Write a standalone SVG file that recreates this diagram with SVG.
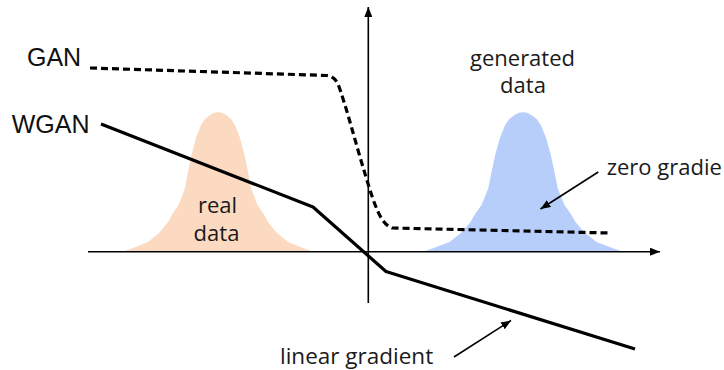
<svg xmlns="http://www.w3.org/2000/svg" xmlns:xlink="http://www.w3.org/1999/xlink" width="724" height="370" viewBox="0 0 724 370">
  <style>
    .lbl { font-family: "Open Sans", "Noto Sans", "DejaVu Sans", sans-serif; font-size: 22px; fill: #1a1a1a; }
    .big { font-family: "Liberation Sans", Arial, sans-serif; font-size: 25px; fill: #111; }
    .axis { stroke: #000; stroke-width: 1.6; fill: none; }
    .curve { stroke: #000; stroke-width: 3.2; fill: none; stroke-linejoin: round; }
    .dash { stroke-dasharray: 7 4; }
    .note { stroke: #000; stroke-width: 1.6; fill: none; }
  </style>
  <defs>
    <path id="bell" d="M-95,251.7 L-85,248 L-70,242 L-58,232 L-50,222 L-45,213 L-39.5,205 L-36,196 L-33,188 L-30,172 L-26.5,155 L-22,138 L-17,125 L-13,119 L-8,115 L-4,112.8 L0,112.2 L4,112.8 L8,115 L13,119 L17,125 L22,138 L26.5,155 L30,172 L33,188 L36,196 L39.5,205 L45,213 L50,222 L58,232 L70,242 L85,248 L95,251.7 Z"/>
    <marker id="ah" viewBox="0 0 10 8" refX="10" refY="4" markerWidth="10" markerHeight="8" markerUnits="userSpaceOnUse" orient="auto">
      <path d="M0,0 L10,4 L0,8 Z" fill="#000"/>
    </marker>
  </defs>

  <g id="real-data">
    <use xlink:href="#bell" href="#bell" transform="translate(218,0)" fill="#FCD9C1"/>
    <text class="lbl" x="217.5" y="213" text-anchor="middle">real</text>
    <text class="lbl" x="216.5" y="240.5" text-anchor="middle">data</text>
  </g>

  <g id="generated-data">
    <use xlink:href="#bell" href="#bell" transform="translate(523,0) scale(1.05,1)" fill="#B7CEFA"/>
    <text class="lbl" x="522.5" y="65.5" text-anchor="middle">generated</text>
    <text class="lbl" x="523" y="93" text-anchor="middle">data</text>
  </g>

  <g id="axes">
    <line class="axis" x1="88" y1="251.7" x2="660" y2="251.7" marker-end="url(#ah)"/>
    <line class="axis" x1="368.3" y1="303" x2="368.3" y2="7" marker-end="url(#ah)"/>
  </g>

  <g id="gan">
    <path class="curve dash" d="M90,68 L327,75.5 Q334,76 338,84 C346,105 356,145 366,177 C375,207 381,224 392,228 L610,233"/>
    <text class="big" x="27" y="66">GAN</text>
  </g>

  <g id="wgan">
    <path class="curve" d="M101,124 L313,207 L386,271.5 L635,349"/>
    <text class="big" x="11.7" y="133.3">WGAN</text>
  </g>

  <g id="connectors">
    <line class="note" x1="598.3" y1="172" x2="540.5" y2="209" marker-end="url(#ah)"/>
    <line class="note" x1="454" y1="357" x2="511" y2="320.5" marker-end="url(#ah)"/>
  </g>

  <g id="annotations">
    <text class="lbl" x="606.7" y="175">zero gradie</text>
    <text class="lbl" x="280" y="364" style="font-size:22.5px">linear gradient</text>
  </g>
</svg>
